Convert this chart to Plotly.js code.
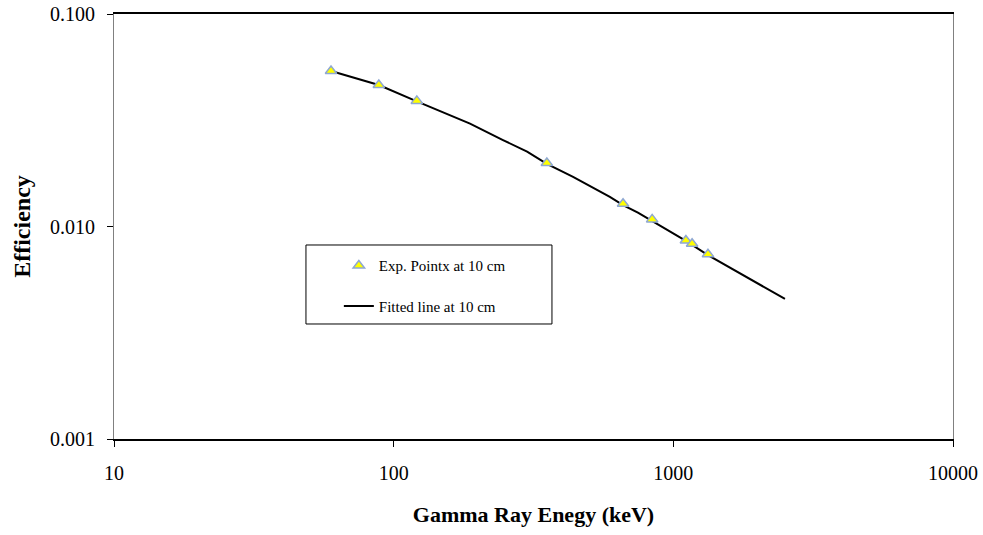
<!DOCTYPE html>
<html>
<head>
<meta charset="utf-8">
<script src="https://cdn.plot.ly/plotly-3.0.1.min.js"></script>
<style>html,body{margin:0;padding:0;background:#fff;}#chart{width:983px;height:535px;}</style>
</head>
<body>
<div id="chart"></div>
<script>
// Experimental points (energy keV, efficiency)
const expEnergy = [59.7, 88.5, 121, 353, 661, 840, 1109, 1167, 1330];
const expEff    = [0.0539, 0.0463, 0.0390, 0.0199, 0.0128, 0.0108, 0.0086, 0.0083, 0.0074];

// Fitted line
const fitEnergy = [59.7, 88.5, 121, 156, 187.5, 246, 300, 353, 438, 593, 661, 747, 840, 1109, 1330, 1775, 2163, 2507];
const fitEff    = [0.0539, 0.0463, 0.0388, 0.0337, 0.0305, 0.0255, 0.0225, 0.0197, 0.01714, 0.0138, 0.01262, 0.01161, 0.01061, 0.00855, 0.00734, 0.00592, 0.00512, 0.00456];

const xTickVals = [10, 100, 1000, 10000];
const xTickText = ["10", "100", "1000", "10000"];
const yTickVals = [0.001, 0.01, 0.1];
const yTickText = ["0.001", "0.010", "0.100"];

const serif = "Liberation Serif, Times New Roman, serif";

const fitTrace = {
  x: fitEnergy, y: fitEff, mode: "lines", type: "scatter",
  name: "Fitted line at 10 cm", legendgroup: "b", legendrank: 2,
  line: {color: "#000000", width: 2}
};
const expTrace = {
  x: expEnergy, y: expEff, mode: "markers", type: "scatter",
  name: "Exp. Pointx at 10 cm", legendgroup: "a", legendrank: 1,
  marker: {symbol: "triangle-up", size: 10, color: "#ffff00", line: {color: "#8fa8d2", width: 1.5}}
};
// draw markers above the line
const data = [fitTrace, expTrace];

const layout = {
  width: 983, height: 535,
  margin: {l: 114, r: 30, t: 14, b: 96},
  paper_bgcolor: "#ffffff", plot_bgcolor: "#ffffff",
  font: {family: serif, color: "#000000"},
  showlegend: true,
  legend: {
    x: 0.268, y: 0.4465, xanchor: "left", yanchor: "top",
    bgcolor: "rgba(0,0,0,0)", borderwidth: 0,
    font: {family: serif, size: 15, color: "#000"},
    tracegroupgap: 18, traceorder: "grouped"
  },
  xaxis: {
    type: "log", range: [1, 4],
    tickvals: xTickVals, ticktext: xTickText,
    ticks: "outside", ticklen: 6, tickcolor: "#000", tickwidth: 1,
    ticklabelstandoff: 9,
    tickfont: {family: serif, size: 20, color: "#000"},
    showgrid: false, zeroline: false,
    showline: true, linecolor: "#000", linewidth: 2, mirror: true,
    title: {text: "<b>Gamma Ray Enegy (keV)</b>", font: {family: serif, size: 22, color: "#000"}, standoff: 24}
  },
  yaxis: {
    type: "log", range: [-3, -1],
    tickvals: yTickVals, ticktext: yTickText,
    ticks: "outside", ticklen: 6, tickcolor: "#000", tickwidth: 1,
    ticklabelstandoff: 8,
    tickfont: {family: serif, size: 20, color: "#000"},
    showgrid: false, zeroline: false,
    showline: true, linecolor: "#808080", linewidth: 1, mirror: true,
    title: {text: "<b>Efficiency</b>", font: {family: serif, size: 24, color: "#000"}, standoff: 12}
  },
  shapes: [
    {type: "rect", xref: "paper", yref: "paper", x0: 0.2288, x1: 0.522, y0: 0.2706, y1: 0.4565,
     line: {color: "#000", width: 1}, fillcolor: "rgba(0,0,0,0)"}
  ]
};

Plotly.newPlot("chart", data, layout, {staticPlot: true});
</script>
</body>
</html>
